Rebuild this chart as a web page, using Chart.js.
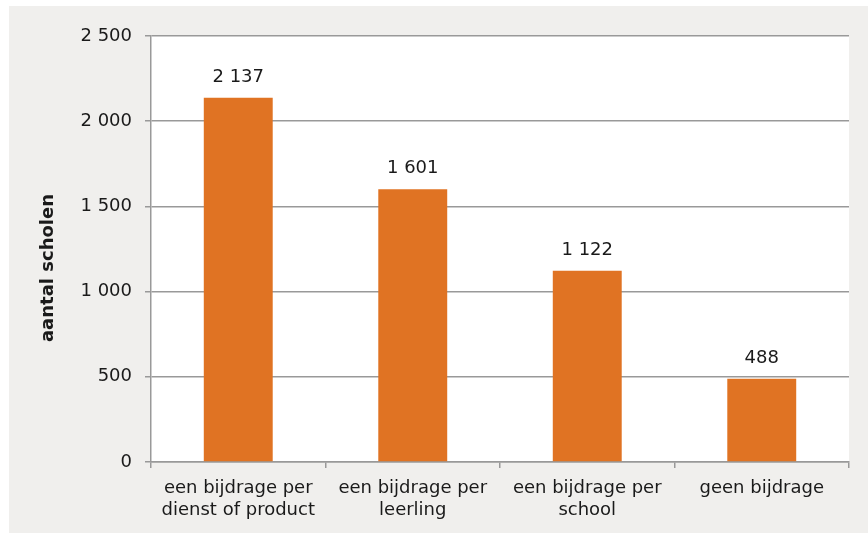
<!DOCTYPE html>
<html lang="nl">
<head>
    <meta charset="UTF-8">
    <title>Aantal scholen per soort bijdrage</title>
    <script src="https://cdn.jsdelivr.net/npm/chart.js"></script>
    <style>
        html, body { margin: 0; padding: 0; background: #ffffff; }
        #wrap { width: 868px; height: 534px; }
    </style>
</head>
<body>
<div id="wrap">
    <canvas id="barChart"></canvas>
</div>

<script>
    // gegevens
    const categorieen = [
        ['een bijdrage per', 'dienst of product'],
        ['een bijdrage per', 'leerling'],
        ['een bijdrage per', 'school'],
        'geen bijdrage'
    ];
    const aantalScholen = [2137, 1601, 1122, 488];
    const asTitel = 'aantal scholen';

    const FONT = '"DejaVu Sans", Verdana, sans-serif';

    function metSpatie(v) {
        return String(v).replace(/\B(?=(\d{3})+(?!\d))/g, ' ');
    }

    // grijze achtergrond, witte plotzone, astitel en waarden boven de staven
    const extraTekening = {
        id: 'extraTekening',
        beforeDraw(chart) {
            const ctx = chart.ctx;
            const a = chart.chartArea;
            ctx.save();
            ctx.fillStyle = '#f0efed';
            ctx.fillRect(9, 6, chart.width - 9, 527);
            ctx.fillStyle = '#ffffff';
            ctx.fillRect(a.left, a.top, a.right - a.left, a.bottom - a.top);
            ctx.restore();
        },
        afterDraw(chart) {
            const ctx = chart.ctx;
            ctx.save();
            ctx.fillStyle = '#1a1a1a';
            ctx.font = 'bold 18px ' + FONT;
            ctx.textAlign = 'center';
            ctx.textBaseline = 'middle';
            ctx.translate(48, 268);
            ctx.rotate(-Math.PI / 2);
            ctx.fillText(asTitel, 0, 0);
            ctx.restore();

            ctx.save();
            ctx.fillStyle = '#1a1a1a';
            ctx.font = '18px ' + FONT;
            ctx.textAlign = 'center';
            ctx.textBaseline = 'alphabetic';
            chart.getDatasetMeta(0).data.forEach((bar, i) => {
                ctx.fillText(metSpatie(aantalScholen[i]), bar.x, bar.y - 16);
            });
            ctx.restore();
        }
    };

    const ctx = document.getElementById('barChart').getContext('2d');
    new Chart(ctx, {
        type: 'bar',
        data: {
            labels: categorieen,
            datasets: [{
                label: asTitel,
                data: aantalScholen,
                backgroundColor: '#e07323',
                borderWidth: 0,
                barPercentage: 0.79,
                categoryPercentage: 0.5
            }]
        },
        options: {
            responsive: true,
            maintainAspectRatio: false,
            animation: false,
            layout: {
                padding: { top: 36, right: 19, bottom: 0, left: 0 }
            },
            plugins: {
                legend: { display: false },
                tooltip: { enabled: false }
            },
            scales: {
                x: {
                    afterFit(scale) { scale.height = 72; },
                    grid: {
                        display: true,
                        offset: true,
                        drawOnChartArea: false,
                        drawTicks: true,
                        tickLength: 6,
                        color: '#999999',
                        lineWidth: 1.5
                    },
                    border: { color: '#999999', width: 1.5 },
                    ticks: {
                        color: '#1a1a1a',
                        padding: 9,
                        maxRotation: 0,
                        autoSkip: false,
                        font: { family: FONT, size: 18, lineHeight: 1.25 }
                    }
                },
                y: {
                    min: 0,
                    max: 2500,
                    afterFit(scale) { scale.width = 151; },
                    grid: {
                        color: '#999999',
                        lineWidth: 1.5,
                        drawTicks: true,
                        tickLength: 6
                    },
                    border: { color: '#999999', width: 1.5 },
                    ticks: {
                        stepSize: 500,
                        color: '#1a1a1a',
                        padding: 13,
                        font: { family: FONT, size: 18 },
                        callback: v => metSpatie(v)
                    }
                }
            }
        },
        plugins: [extraTekening]
    });
</script>
</body>
</html>
